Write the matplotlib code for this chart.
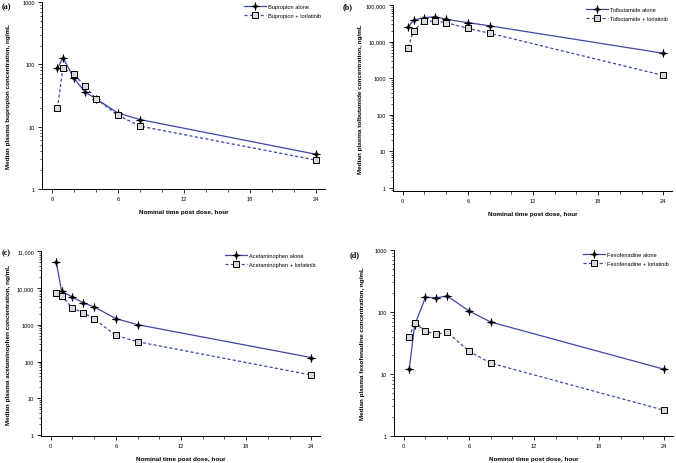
import numpy as np
import matplotlib
matplotlib.use("Agg")
import matplotlib.pyplot as plt
from matplotlib.path import Path
from matplotlib.ticker import FixedLocator, LogLocator, NullFormatter, FixedFormatter

plt.rcParams["font.family"] = ["Liberation Sans", "DejaVu Sans"]

hours = [0.5, 1, 2, 3, 4, 6, 8, 24]

bupropion_alone = [86, 128, 60, 36, 28, 16.5, 13, 3.6]
bupropion_lor = [19.7, 86, 69, 45, 28, 15.2, 10.2, 2.9]

tolbutamide_alone = [25000, 39000, 45000, 48000, 40500, 33000, 27000, 4800]
tolbutamide_lor = [6900, 20000, 36500, 35500, 33000, 23000, 17000, 1190]

acetaminophen_alone = [51000, 8100, 5600, 3900, 3030, 1460, 1000, 128]
acetaminophen_lor = [7200, 6050, 2790, 2120, 1430, 510, 344, 43]

fexofenadine_alone = [11.9, 61, 173, 169, 182, 104, 69, 11.9]
fexofenadine_lor = [39, 67, 49, 43.4, 47.4, 23.3, 15, 2.6]

panels = [
    ("(a)", "Bupropion", "bupropion", bupropion_alone, bupropion_lor,
     [1, 10, 100, 1000], ["1", "10", "100", "1000"]),
    ("(b)", "Tolbutamide", "tolbutamide", tolbutamide_alone, tolbutamide_lor,
     [1, 10, 100, 1000, 1e4, 1e5], ["1", "10", "100", "1000", "10,000", "100,000"]),
    ("(c)", "Acetaminophen", "acetaminophen", acetaminophen_alone, acetaminophen_lor,
     [1, 10, 100, 1000, 1e4, 1e5], ["1", "10", "100", "1000", "10,000", "11,000"]),
    ("(d)", "Fexofenadine", "fexofenadine", fexofenadine_alone, fexofenadine_lor,
     [1, 10, 100, 1000], ["1", "10", "100", "1000"]),
]

# thin four point star, like the SAS "star" symbol
ang = np.arange(8) * np.pi / 4 + np.pi / 2
rad = np.where(np.arange(8) % 2 == 0, 1.0, 0.28)
star_verts = np.column_stack([rad * np.cos(ang), rad * np.sin(ang)])
star = Path(np.vstack([star_verts, star_verts[:1]]), closed=True)

W, H = 676, 464
# axes boxes in pixels: left, top, right, bottom
boxes = [(42, 3, 325, 190), (393, 6, 672, 192), (41, 252, 320, 437), (394, 251, 673, 437)]
ylims = [(1, 1000), (0.83, 1e5), (0.95, 1e5), (1, 1000)]
label_pos = [(2, 7), (343, 7), (2, 253), (350, 255)]
ylabel_x = [6, 358, 6, 360]

blue = "#3a48a8"

fig = plt.figure(figsize=(W / 100, H / 100), dpi=100)

for i, (tag, drug, drug_lc, alone, lor, yt, ytl) in enumerate(panels):
    l, t, r, b = boxes[i]
    ax = fig.add_axes([l / W, 1 - b / H, (r - l) / W, (b - t) / H])
    ax.plot(hours, alone, color=blue, lw=0.9, marker=star, ms=6,
            mfc="black", mec="black", mew=0.4, label=drug + " alone")
    ax.plot(hours, lor, color=blue, lw=0.9, ls=(0, (2.5, 1.8)), marker="s", ms=3.8,
            mfc="#d8d8d8", mec="black", mew=0.7, label=drug + " + lorlatinib")
    ax.set_yscale("log")
    ax.set_xlim(-0.9, 24.8)
    ax.set_ylim(*ylims[i])
    ax.yaxis.set_major_locator(FixedLocator(yt))
    ax.yaxis.set_major_formatter(FixedFormatter(ytl))
    ax.yaxis.set_minor_locator(LogLocator(base=10, subs=np.arange(2, 10)))
    ax.yaxis.set_minor_formatter(NullFormatter())
    ax.set_xticks([0, 6, 12, 18, 24])
    ax.set_xticks(np.arange(0, 25, 2), minor=True)
    for s in ("top", "right"):
        ax.spines[s].set_visible(False)
    for s in ("left", "bottom"):
        ax.spines[s].set_linewidth(0.7)
    ax.tick_params(which="major", length=3, width=0.6, labelsize=4.1, pad=2)
    ax.tick_params(which="minor", length=1.8, width=0.5)
    ax.set_xlabel("Nominal time post dose, hour", fontsize=4.6, fontweight="bold", labelpad=6)
    fig.text(ylabel_x[i] / W, 1 - ((t + b) / 2) / H,
             "Median plasma %s concentration, ng/mL" % drug_lc,
             rotation=90, fontsize=4.6, fontweight="bold", ha="left", va="center")
    fig.text(label_pos[i][0] / W, 1 - label_pos[i][1] / H, tag, fontsize=5.8,
             fontweight="bold", family="Liberation Serif", va="center", ha="left")
    ax.legend(loc="upper right", bbox_to_anchor=(1.0, 1.01), frameon=False, fontsize=4.1,
              handlelength=3.8, handletextpad=0.4, labelspacing=0.6, borderpad=0.2)

fig.savefig("out.png", dpi=100)
